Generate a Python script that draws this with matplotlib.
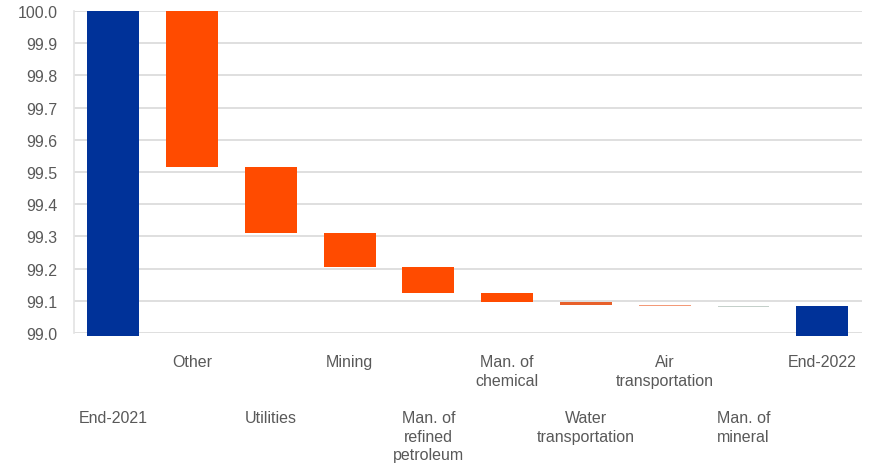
import matplotlib.pyplot as plt

# waterfall data (percentage points)
categories = ['End-2021', 'Other', 'Utilities', 'Mining', 'Man. of\nrefined\npetroleum',
              'Man. of\nchemical', 'Water\ntransportation', 'Air\ntransportation',
              'Man. of\nmineral', 'End-2022']
tops = [100.0, 100.0, 99.515, 99.312, 99.205, 99.125, 99.095, 99.087, 99.084, 99.083]
bottoms = [98.99, 99.515, 99.312, 99.205, 99.125, 99.095, 99.087, 99.084, 99.082, 98.99]
colors = ['#003299', '#FF4B00', '#FF4B00', '#FF4B00', '#FF4B00',
          '#FF4B00', '#E8602A', '#F39A78', '#C4D0CA', '#003299']

plt.rcParams['font.family'] = ['Liberation Sans', 'DejaVu Sans']

fig = plt.figure(figsize=(8.73, 4.64), dpi=100)
ax = fig.add_axes([0.0848, 0.28, 0.9022, 0.694])

x = list(range(len(categories)))
heights = [t - b for t, b in zip(tops, bottoms)]
bars = ax.bar(x, heights, bottom=bottoms, width=0.66, color=colors, zorder=3)
for b in bars:
    b.set_clip_on(False)

ax.set_ylim(99.0, 100.0)
ax.set_xlim(-0.5, 9.5)
ax.set_yticks([99.0 + i * 0.1 for i in range(11)])
ax.set_yticklabels([f"{99.0 + i * 0.1:.1f}" for i in range(11)])
ax.tick_params(axis='y', length=0, pad=12, labelsize=11.5, labelcolor='#595959')
ax.set_xticks([])
ax.grid(axis='y', color='#D9D9D9', linewidth=1.2, zorder=0)

for side in ['top', 'right', 'bottom']:
    ax.spines[side].set_visible(False)
ax.spines['left'].set_color('#E3E3E3')
ax.spines['left'].set_linewidth(1.2)

# staggered category labels
trans = ax.get_xaxis_transform()
for i, label in enumerate(categories):
    y = -0.066 if i % 2 == 1 else -0.238
    ax.text(i, y, label, transform=trans, ha='center', va='top',
            fontsize=11.5, color='#595959', linespacing=1.32)

fig.savefig('out.png', dpi=100)
